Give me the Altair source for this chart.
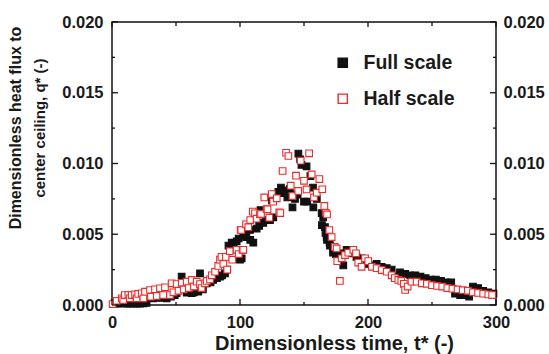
import altair as alt
import pandas as pd

# ---------------- data ----------------
full_t = [2, 5, 8, 11.5, 14, 16.6, 19.3, 21.9, 24, 24.5, 27, 29.7, 32, 35, 38, 42.7, 46, 49,
          50.5, 54.4, 58.4, 62.3, 64, 67.4, 68.75, 71, 74, 77, 79, 82, 84.4, 86, 88.3, 90,
          91, 93.5, 95, 97.4, 99, 100, 101.3, 102.6, 104, 105, 107.8, 108, 110.4, 113, 115,
          116, 118.2, 120, 123.4, 125, 126, 128, 130, 132, 133, 135, 137, 139, 141, 143, 145,
          145.6, 147, 148, 150, 152, 152.5, 155, 157, 157.3, 160, 163.8, 164, 165, 166.4,
          166.8, 167.7, 168, 170, 170.3, 172.7, 172.9, 175, 178, 180.7, 183.3, 186, 188.5,
          191, 195, 199, 203, 206.8, 210.7, 214.6, 218.5, 222.4, 225, 229, 233, 237, 241,
          245, 249, 253, 257, 261, 265, 268, 272, 276, 279, 282, 286, 290, 294, 298]
full_q = [0.0001, 0.0001, 0.00012, 0.0001, 0.0001, 0.0001, 0.0001, 0.0001, 0.0005, 0.00012,
          0.00015, 0.00083, 0.00047, 0.0006, 0.0005, 0.00047, 0.0006, 0.0007,
          0.00083, 0.002, 0.00087, 0.00083, 0.0009, 0.00094, 0.00224, 0.0011, 0.00153, 0.0016,
          0.00177, 0.0019, 0.002, 0.0021, 0.00224, 0.0025,
          0.0042, 0.0044, 0.0043, 0.0045, 0.0047, 0.0032, 0.0033, 0.0049, 0.0051, 0.0048,
          0.0053, 0.0046, 0.0044, 0.0054, 0.0056,
          0.0067, 0.0058, 0.006, 0.006, 0.0074, 0.0062, 0.0078, 0.008, 0.0083, 0.0079, 0.0081,
          0.0076, 0.0082, 0.0069, 0.0075, 0.0078,
          0.0107, 0.0103, 0.0099, 0.0073, 0.0098, 0.0073, 0.0091, 0.0083, 0.0069, 0.0075,
          0.0065, 0.00565, 0.0062, 0.0055,
          0.0051, 0.0048, 0.0046, 0.0044, 0.0042, 0.0037, 0.0039, 0.0036, 0.00365, 0.0028,
          0.0039, 0.0037, 0.00365,
          0.0034, 0.0033, 0.0029, 0.0028, 0.0029, 0.0027, 0.0026, 0.0025, 0.002, 0.0023,
          0.0022, 0.0021, 0.0021, 0.002,
          0.0019, 0.0018, 0.0018, 0.0017, 0.0016, 0.0016, 0.0008, 0.0007, 0.0007, 0.0006,
          0.0013, 0.0012, 0.001, 0.0009, 0.0008]

half_t = [0.5, 3.6, 7.6, 8.8, 10, 12.8, 14, 15.4, 18, 19.3, 20.5, 23.2, 24.5, 25.8, 29.7,
          30.5, 33.6, 35, 37.5, 40, 41.4, 45.3, 46.6, 48, 50.5, 52, 54.5, 56, 58.4, 60, 62.3,
          64, 66.2, 68.75, 70, 72.7, 74, 76.6, 78, 80.5, 83, 84.4, 85.5, 87, 89, 90, 92, 94,
          97.4, 99, 100.5, 101, 102, 102.6, 104.7, 106.5, 108, 110, 111.7, 113, 115.6, 116.4,
          119, 120.8, 121.5, 122.9, 124.8, 126, 128.7, 130.7, 131.5, 133.3, 136, 137.8, 139.6,
          141, 143.75, 145.5, 147.4, 150, 152, 154, 156, 157.8, 160, 162, 164.3, 165.9, 167,
          168, 169.8, 171.6, 174, 175.5, 176, 178, 179.4, 182, 184.6, 188.5, 190.6, 192.4,
          195, 197.7, 200.2, 203, 206.8, 210.7, 214.6, 218.5, 221, 223.7, 226, 228, 229, 231,
          234, 238, 242, 246, 250, 254, 258, 262, 266, 270, 274, 278, 282, 286, 290, 294, 297]
half_q = [0.00007, 0.0003, 0.00047, 0.00035, 0.0007, 0.0007, 0.00047, 0.0007, 0.00075,
          0.00047, 0.00078, 0.00083, 0.00047, 0.00094, 0.00106,
          0.00059, 0.00111, 0.00064, 0.00118, 0.0007, 0.00125, 0.0007, 0.00153, 0.0009,
          0.00148, 0.001, 0.00157, 0.0011, 0.00165, 0.0012, 0.00177,
          0.0013, 0.00165, 0.00148, 0.0012, 0.00153, 0.0017, 0.00181, 0.0021, 0.00235,
          0.00276, 0.0032, 0.0034, 0.0029, 0.0034, 0.0025, 0.0038, 0.0032,
          0.0039, 0.0036, 0.0053, 0.0053, 0.0039, 0.0039, 0.0057, 0.0055, 0.006, 0.0066,
          0.00648, 0.0061, 0.0064, 0.00643,
          0.0076, 0.00678, 0.00676, 0.00617, 0.00784, 0.0073, 0.00754, 0.00655, 0.0065,
          0.00947, 0.01076, 0.01053, 0.00843,
          0.0077, 0.00914, 0.00806, 0.0102, 0.00878, 0.00817, 0.01072, 0.00923, 0.0076,
          0.00794, 0.0089, 0.00818, 0.007, 0.00652,
          0.0064, 0.0053, 0.0048, 0.0041, 0.004, 0.0031, 0.0017, 0.0033, 0.00353, 0.0037,
          0.0039, 0.00365, 0.003,
          0.0027, 0.0033, 0.0031, 0.0027, 0.0026, 0.00247, 0.00235, 0.0021, 0.0019, 0.00177,
          0.0017, 0.0015, 0.00106, 0.0013,
          0.00165, 0.00165, 0.00153, 0.0015, 0.0014, 0.00135, 0.0013, 0.0012, 0.00115,
          0.0011, 0.00105, 0.001, 0.0009, 0.00085, 0.0008, 0.00075, 0.0007]

series_names = ["Full scale", "Half scale"]
x_major = [0, 100, 200, 300]
x_minor = [50, 150, 250]
y_major = [0.0, 0.005, 0.010, 0.015, 0.020]
y_minor = [0.0025, 0.0075, 0.0125, 0.0175]
x_title = "Dimensionless time, t* (-)"
y_title_lines = ["Dimensionless heat flux to", "center ceiling, q* (-)"]

# ---------------- tables ----------------
df = pd.concat([
    pd.DataFrame({"t": full_t, "q": full_q, "series": series_names[0]}),
    pd.DataFrame({"t": half_t, "q": half_q, "series": series_names[1]}),
], ignore_index=True)
df["idx"] = range(len(df))

xmaj = pd.DataFrame({"v": x_major})
xmin = pd.DataFrame({"v": x_minor})
ymaj = pd.DataFrame({"v": y_major})
ymin = pd.DataFrame({"v": y_minor})

W, H = 384, 283
FONT = "Liberation Sans"
TXT = "#1a1a1a"
RED = "#ec2b2b"

xs = alt.Scale(domain=[0, 300], nice=False, zero=False)
ys = alt.Scale(domain=[0, 0.02], nice=False, zero=False)

points = alt.Chart(df).mark_square(size=44, strokeWidth=1.1, opacity=1).encode(
    x=alt.X("t:Q", scale=xs, axis=alt.Axis(
        values=x_major, ticks=False, domain=False, grid=False, labelFlush=False,
        labelFont=FONT, labelFontSize=16.5, labelFontWeight="bold", labelColor=TXT,
        labelPadding=9,
        title=x_title, titleFont=FONT, titleFontSize=20,
        titleFontWeight="bold", titleColor=TXT,
        titleX=222, titleY=44, titleBaseline="alphabetic")),
    y=alt.Y("q:Q", scale=ys, axis=alt.Axis(
        values=y_major, format=".3f", ticks=False, domain=False, grid=False,
        labelFlush=False,
        labelFont=FONT, labelFontSize=16.5, labelFontWeight="bold", labelColor=TXT,
        labelPadding=9, title=None)),
    fill=alt.Fill("series:N", scale=alt.Scale(domain=series_names, range=["#111111", "#ffffff"]),
                  legend=alt.Legend(title=None)),
    stroke=alt.Stroke("series:N", scale=alt.Scale(domain=series_names, range=["#111111", RED]),
                      legend=alt.Legend(title=None)),
    order=alt.Order("idx:Q"),
)

def ytitle_line(text, xpos, size):
    return alt.Chart(pd.DataFrame({"s": [text]})).mark_text(
        angle=270, align="center", baseline="alphabetic", font=FONT, fontSize=size,
        fontWeight="bold", color=TXT
    ).encode(text="s:N", x=alt.value(xpos), y=alt.value(106))

def vtick(data, top, length):
    y0 = 0 if top else H
    y1 = length if top else H - length
    return alt.Chart(data).mark_rule(color="#111111", strokeWidth=1.3).encode(
        x=alt.X("v:Q", scale=xs, axis=None),
        y=alt.value(y0), y2=alt.value(y1))

def htick(data, right, length, axis=None):
    x0 = W if right else 0
    x1 = W - length if right else length
    return alt.Chart(data).mark_rule(color="#111111", strokeWidth=1.3).encode(
        y=alt.Y("v:Q", scale=ys, axis=axis),
        x=alt.value(x0), x2=alt.value(x1))

right_axis = alt.Axis(
    orient="right", values=y_major, format=".3f", ticks=False, domain=False, grid=False,
    labelFlush=False,
    labelFont=FONT, labelFontSize=16.5, labelFontWeight="bold", labelColor=TXT,
    labelPadding=7, title=None)

chart = alt.layer(
    points,
    vtick(xmaj, False, 6), vtick(xmin, False, 3),
    vtick(xmaj, True, 5), vtick(xmin, True, 4),
    htick(ymaj, False, 6), htick(ymin, False, 3),
    htick(ymaj, True, 6, right_axis), htick(ymin, True, 3),
    ytitle_line(y_title_lines[0], -91, 16), ytitle_line(y_title_lines[1], -67, 15),
).resolve_axis(y="independent", x="independent").properties(
    width=W, height=H, autosize="none",
    padding={"left": 112, "top": 22, "right": 53, "bottom": 49},
).configure_view(
    stroke="#111111", strokeWidth=1.5
).configure_legend(
    orient="none", legendX=221, legendY=31, padding=0,
    labelFont=FONT, labelFontSize=19.5, labelFontWeight="bold", labelColor=TXT,
    symbolSize=85, symbolStrokeWidth=1.4, symbolType="square",
    rowPadding=15, labelOffset=11,
)

chart.save("out.html", embed_options={"renderer": "svg", "actions": False})
